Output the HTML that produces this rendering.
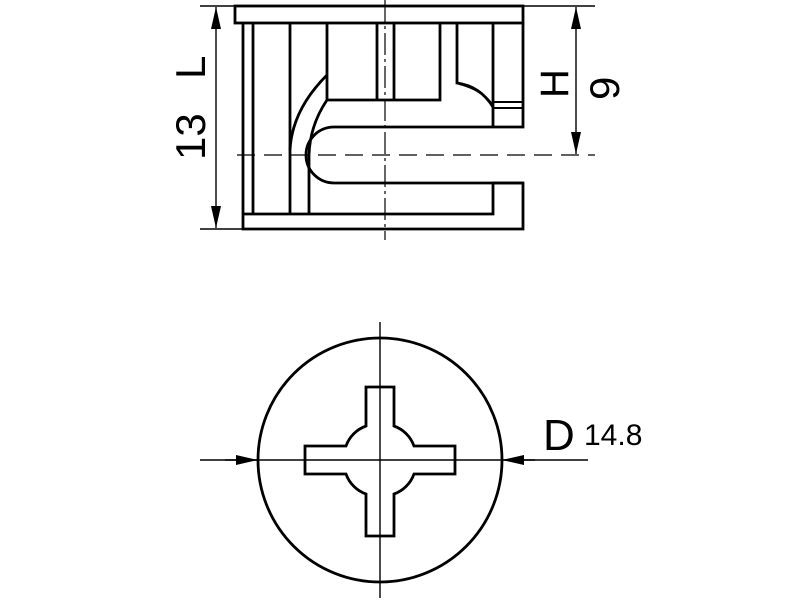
<!DOCTYPE html>
<html><head><style>html,body{margin:0;padding:0;background:#fff;width:800px;height:600px;overflow:hidden}</style></head><body>
<svg width="800" height="600" viewBox="0 0 800 600" xmlns="http://www.w3.org/2000/svg">
<defs>
<marker id="a" viewBox="0 0 22 10" refX="22" refY="5" markerWidth="22" markerHeight="10" markerUnits="userSpaceOnUse" orient="auto-start-reverse"><path d="M0,0 L22,5 L0,10 z" fill="#000"/></marker>
</defs>
<g stroke="#000" fill="none">
<line x1="385" y1="0" x2="385" y2="240" stroke-width="1.2" stroke-dasharray="22,4,3,4"/>
<line x1="237" y1="155" x2="595" y2="155" stroke-width="1.2" stroke-dasharray="18,9"/>
<g stroke-width="2.8">
<rect x="235" y="6" width="288" height="17"/>
<path d="M243,23 V229 H523 V183 H493 V214 H243"/>
<path d="M523,23 V127 H334 A28,28 0 0 0 334,183 H523"/>
<line x1="253" y1="23" x2="253" y2="214"/>
<line x1="290" y1="23" x2="290" y2="214"/>
<path d="M327,75 Q292,110 290,150"/>
<path d="M327,100 Q310,125 309,155 V214"/>
<path d="M327,23 V100 H440 V23"/>
<line x1="377" y1="23" x2="377" y2="100"/>
<line x1="394" y1="23" x2="394" y2="100"/>
<path d="M457,23 V83 Q480,86 493,107"/>
<path d="M459,84 Q482,90 492,104" stroke-width="1.8"/>
<line x1="493" y1="23" x2="493" y2="127"/>
<line x1="493" y1="102" x2="523" y2="102" stroke-width="2"/>
<line x1="493" y1="108" x2="523" y2="108" stroke-width="2"/>
</g>
<g stroke-width="1.4">
<line x1="200" y1="6" x2="235" y2="6"/>
<line x1="200" y1="229" x2="243" y2="229"/>
<line x1="216" y1="7" x2="216" y2="228" marker-start="url(#a)" marker-end="url(#a)"/>
<line x1="523" y1="6" x2="595" y2="6"/>
<line x1="576" y1="7" x2="576" y2="154" marker-start="url(#a)" marker-end="url(#a)"/>
</g>
<line x1="380" y1="322" x2="380" y2="598" stroke-width="1.4"/>
<line x1="200" y1="460" x2="588" y2="460" stroke-width="1.4"/>
<circle cx="380" cy="460" r="122" stroke-width="2.8"/>
<path stroke-width="2.8" d="M366,387 H394 V426 A33,33 0 0 1 414,446 H455 V474 H414 A33,33 0 0 1 394,494 V536 H366 V494 A33,33 0 0 1 346,474 H305 V446 H346 A33,33 0 0 1 366,426 Z"/>
<line x1="225" y1="460" x2="258" y2="460" stroke-width="1.4" marker-end="url(#a)"/>
<line x1="535" y1="460" x2="502" y2="460" stroke-width="1.4" marker-end="url(#a)"/>
</g>
<g font-family="Liberation Sans, sans-serif" fill="#000">
<text transform="translate(205,79) rotate(-90)" font-size="42">L</text>
<text transform="translate(205,160) rotate(-90)" font-size="42">13</text>
<text transform="translate(568,98) rotate(-90)" font-size="40">H</text>
<text transform="translate(619,100) rotate(-90)" font-size="42">9</text>
<text x="543" y="450" font-size="44">D</text>
<text x="584" y="445" font-size="30">14.8</text>
</g>
</svg>
</body></html>
